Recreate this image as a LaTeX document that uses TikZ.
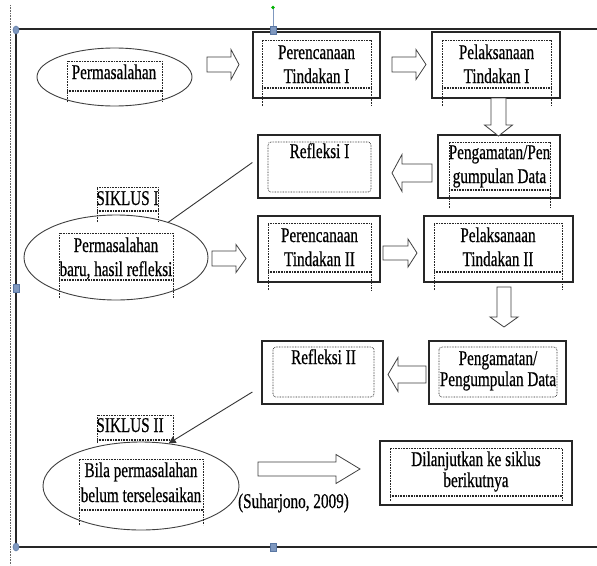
\documentclass[tikz,border=0pt]{standalone}
\usepackage{fontspec}
\newfontfamily\tfont[FakeStretch=0.725,FakeBold=0.5]{Liberation Serif}
\usetikzlibrary{arrows.meta,shapes.geometric}
\definecolor{hcol}{HTML}{7F98BF}
\definecolor{hcold}{HTML}{5A77A3}
\tikzset{
  box/.style={draw=black!85, line width=1.3pt, rectangle, inner sep=0pt, fill=white},
  ell/.style={draw=black!75, line width=0.9pt, ellipse, inner sep=0pt},
  dotl/.style={draw=black!85, line width=0.7pt, dash pattern=on 0.7pt off 0.9pt},
  barrow/.style={draw=black!75, line width=0.8pt, fill=white, line join=miter},
  tx/.style={font=\tfont\fontsize{21}{24}\selectfont, anchor=base, inner sep=0pt, text=black},
  conn/.style={draw=black!80, line width=0.9pt},
  frameline/.style={draw=black!85, line width=1.2pt},
  handle/.style={fill=hcol, draw=hcold, line width=0.5pt}
}
\newcommand\tbx[5]{%
  \draw[dotl] ({#1},{#5}) -- ({#1},{#2}) -- ({#3},{#2}) -- ({#3},{#5});
  \draw[dotl] ({#1},{#4}) -- ({#3},{#4});
  \draw[dotl] ({#1},{#4+1.6}) -- ({#3},{#4+1.6});}
\newcommand\rbx[4]{\draw[dotl, rounded corners=3pt] ({#1},{#2}) rectangle ({#3},{#4});}
\newcommand\rarr[6]{\draw[barrow] ({#1},{#4-#5}) -- ({#2},{#4-#5}) -- ({#2},{#4-#6}) -- ({#3},{#4}) -- ({#2},{#4+#6}) -- ({#2},{#4+#5}) -- ({#1},{#4+#5}) -- cycle;}
\newcommand\darr[6]{\draw[barrow] ({#1-#5},{#2}) -- ({#1-#5},{#3}) -- ({#1-#6},{#3}) -- ({#1},{#4}) -- ({#1+#6},{#3}) -- ({#1+#5},{#3}) -- ({#1+#5},{#2}) -- cycle;}
\begin{document}
\begin{tikzpicture}[x=1pt,y=-1pt]
\useasboundingbox (0,0) rectangle (597,565);
\fill[white] (0,0) rectangle (597,565);

% page margin guide and frame
\draw[dotl, draw=black!60] (10,5) -- (10,565);
\draw[frameline] (597,29) -- (16,29) -- (16,547) -- (597,547);

% boxes
\node[box, minimum width=127pt, minimum height=66pt] (b2) at (316.5,65) {};
\node[box, minimum width=128pt, minimum height=66pt] (b3) at (496,65) {};
\node[box, minimum width=122pt, minimum height=63pt] (b4) at (499,166.5) {};
\node[box, minimum width=122pt, minimum height=63pt] (b5) at (319,166.5) {};
\node[box, minimum width=122pt, minimum height=66pt] (b8) at (319,249) {};
\node[box, minimum width=149pt, minimum height=66pt] (b9) at (498.5,249) {};
\node[box, minimum width=137pt, minimum height=63pt] (b10) at (497.5,372.5) {};
\node[box, minimum width=121pt, minimum height=63pt] (b11) at (322.5,372.5) {};
\node[box, minimum width=192pt, minimum height=64pt] (b16) at (476,473) {};

% ellipses
\node[ell, minimum width=155pt, minimum height=58pt] (e1) at (114.5,77) {};
\node[ell, minimum width=184pt, minimum height=85pt] (e7) at (116,257.5) {};
\node[ell, minimum width=196pt, minimum height=88pt] (e13) at (141,486) {};

% text box outlines
\tbx{67}{61}{162}{90}{102}
\tbx{262}{40}{371}{87}{106}
\tbx{442}{40}{551}{87}{106}
\tbx{449}{142}{550}{189}{208}
\rbx{268}{142}{371}{192}
\tbx{97}{187}{158}{210}{222}
\tbx{59}{233}{173}{279}{298}
\tbx{268}{223}{371}{271}{290}
\tbx{434}{223}{562}{271}{290}
\rbx{439}{347}{557}{397}
\rbx{273}{347}{374}{397}
\tbx{97}{415}{173}{439}{443}
\tbx{79}{459}{203}{509}{525}
\tbx{390}{448}{562}{495}{501}

% block arrows
\rarr{207}{231}{239}{64.5}{7.5}{15}
\rarr{392}{416}{426}{64.5}{7.5}{15}
\darr{498.5}{98}{125}{136}{7.5}{14}
\rarr{432}{402}{392}{173}{9}{18.5}
\rarr{212}{236}{246}{258.5}{7.5}{14}
\rarr{383}{408}{417}{253}{7}{14}
\darr{504}{287}{317}{327}{7}{14}
\rarr{426}{398}{388}{374.5}{8.5}{17}
\rarr{258}{336}{360}{469}{7}{14.5}

% texts
\node[tx] (t1) at (114,79) {Permasalahan};
\node[tx] (t2a) at (316.5,59) {Perencanaan};
\node[tx] (t2b) at (316.5,83) {Tindakan I};
\node[tx] (t3a) at (496.5,59) {Pelaksanaan};
\node[tx] (t3b) at (496.5,83) {Tindakan I};
\node[tx] (t4a) at (499.5,159) {Pengamatan/Pen};
\node[tx] (t4b) at (499.5,183) {gumpulan Data};
\node[tx] (t5) at (319.5,158) {Refleksi I};
\node[tx] (t6) at (127.5,205) {SIKLUS I};
\node[tx] (t7a) at (116,252) {Permasalahan};
\node[tx] (t7b) at (116,276) {baru, hasil refleksi};
\node[tx] (t8a) at (319.5,242) {Perencanaan};
\node[tx] (t8b) at (319.5,266) {Tindakan II};
\node[tx] (t9a) at (498,242) {Pelaksanaan};
\node[tx] (t9b) at (498,266) {Tindakan II};
\node[tx] (t10a) at (498,365) {Pengamatan/};
\node[tx] (t10b) at (498,386) {Pengumpulan Data};
\node[tx] (t11) at (323.5,364) {Refleksi II};
\node[tx] (t12) at (130,432) {SIKLUS II};
\node[tx] (t13a) at (141,477) {Bila permasalahan};
\node[tx] (t13b) at (141,502) {belum terselesaikan};
\node[tx] (t16a) at (476,466) {Dilanjutkan ke siklus};
\node[tx] (t16b) at (476,487) {berikutnya};
\node[tx] (t17) at (293.5,508) {(Suharjono, 2009)};

% connectors
\draw[conn] ([xshift=-5pt,yshift=4pt]b5.west) -- (e7.34);
\draw[conn, -{Triangle[length=7pt,width=7pt]}] ([xshift=-9pt,yshift=-19.5pt]b11.west) -- (e13.57);

% selection handles
\draw[hcol, line width=1pt] (273,8) -- (273,26);
\fill[green!70!black] (273,7.5) circle (1.8pt);
\draw[handle] (16,30) ellipse (3pt and 4pt);
\draw[handle] (270,26) rectangle (276,34);
\draw[handle] (13,284) rectangle (19,292);
\draw[handle] (16,547) ellipse (3pt and 4pt);
\draw[handle] (270,543) rectangle (276,551);
\end{tikzpicture}
\end{document}
